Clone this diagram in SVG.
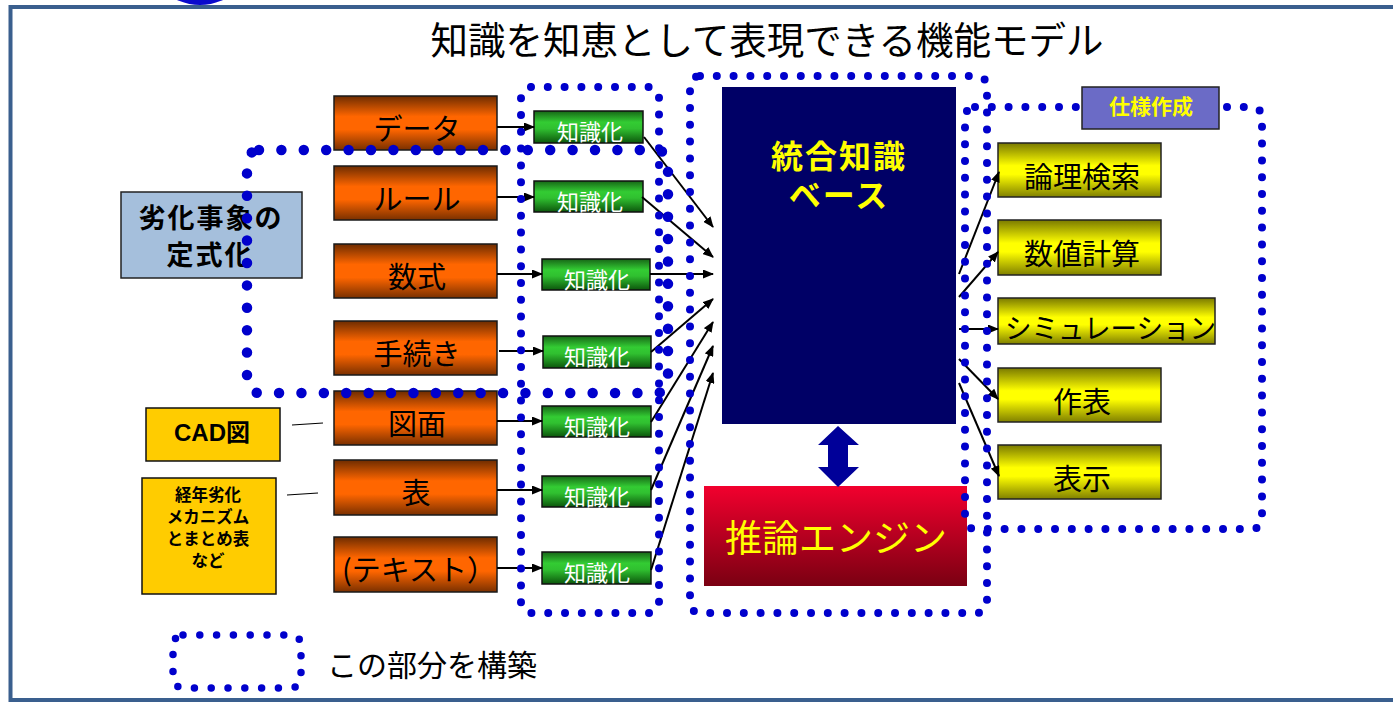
<svg xmlns="http://www.w3.org/2000/svg" width="1393" height="703" viewBox="0 0 1393 703">
<defs>
<linearGradient id="gOrange" x1="0" y1="0" x2="0" y2="1">
<stop offset="0" stop-color="#6E2C00"/><stop offset="0.38" stop-color="#FF6600"/><stop offset="0.62" stop-color="#FF6600"/><stop offset="1" stop-color="#7A3000"/>
</linearGradient>
<linearGradient id="gGreen" x1="0" y1="0" x2="0" y2="1">
<stop offset="0" stop-color="#176617"/><stop offset="0.35" stop-color="#33CC33"/><stop offset="0.55" stop-color="#30C030"/><stop offset="1" stop-color="#0C560C"/>
</linearGradient>
<linearGradient id="gYellow" x1="0" y1="0" x2="0" y2="1">
<stop offset="0" stop-color="#7A7A00"/><stop offset="0.42" stop-color="#FFFF00"/><stop offset="0.58" stop-color="#FFFF00"/><stop offset="1" stop-color="#808000"/>
</linearGradient>
<linearGradient id="gRed" x1="0" y1="0" x2="0" y2="1">
<stop offset="0" stop-color="#F2002E"/><stop offset="1" stop-color="#7A0012"/>
</linearGradient>
<marker id="ah" markerUnits="userSpaceOnUse" markerWidth="11" markerHeight="9" refX="10" refY="4.5" orient="auto">
<path d="M0,0 L11,4.5 L0,9 z" fill="#000"/>
</marker>
<style>
.ja{font-family:"Noto Sans CJK JP","Noto Sans CJK SC",sans-serif}
.ob{fill:url(#gOrange);stroke:#1a1a1a;stroke-width:1.5}
.gb{fill:url(#gGreen);stroke:#111;stroke-width:1.5}
.yb{fill:url(#gYellow);stroke:#222;stroke-width:1.5}
.ot{font-size:29px;fill:#000;text-anchor:middle}
.gt{font-size:22px;fill:#fff;text-anchor:middle}
.yt{font-size:29px;fill:#000;text-anchor:middle}
.con{stroke:#000;stroke-width:2;fill:none;marker-end:url(#ah)}
.dots{fill:none;stroke:#0000CC;stroke-linecap:round}
</style>
</defs>
<rect width="1393" height="703" fill="#fff"/>
<circle cx="200" cy="-50" r="55" fill="#0A0ACD"/>
<rect x="10.5" y="7" width="1400" height="693" fill="none" stroke="#3A5F8E" stroke-width="4"/>
<text class="ja" x="767" y="54" font-size="37.5" text-anchor="middle" fill="#000">知識を知恵として表現できる機能モデル</text>

<g id="n-rekka"><rect x="121" y="192" width="181" height="86" fill="#A5BFDC" stroke="#222" stroke-width="1.5"/>
<text class="ja" x="211" y="228" font-size="27" font-weight="bold" text-anchor="middle" letter-spacing="2">劣化事象の</text>
<text class="ja" x="210" y="265" font-size="27" font-weight="bold" text-anchor="middle" letter-spacing="2">定式化</text></g>

<g id="n-cad"><rect x="146" y="408" width="134" height="53" fill="#FFCC00" stroke="#111" stroke-width="1.5"/>
<text x="212" y="441" font-size="24" font-weight="bold" text-anchor="middle" font-family="Liberation Sans,Noto Sans CJK JP,sans-serif">CAD図</text></g>

<g id="n-keinen"><rect x="142" y="478" width="134" height="116" fill="#FFCC00" stroke="#111" stroke-width="1.5"/>
<g class="ja" font-size="16.5" font-weight="bold" text-anchor="middle">
<text x="208" y="501">経年劣化</text><text x="208" y="523">メカニズム</text><text x="208" y="545">とまとめ表</text><text x="208" y="567">など</text></g></g>

<g id="n-data"><rect class="ob" x="334" y="96" width="163" height="54"/><text class="ja ot" x="417" y="140">データ</text></g>
<g id="n-rule"><rect class="ob" x="334" y="166" width="163" height="54"/><text class="ja ot" x="417" y="210">ルール</text></g>
<g id="n-shiki"><rect class="ob" x="334" y="244" width="163" height="54"/><text class="ja ot" x="417" y="288">数式</text></g>
<g id="n-tetsuzuki"><rect class="ob" x="334" y="321" width="163" height="54"/><text class="ja ot" x="417" y="365">手続き</text></g>
<g id="n-zumen"><rect class="ob" x="334" y="391" width="163" height="54"/><text class="ja ot" x="417" y="435">図面</text></g>
<g id="n-hyo"><rect class="ob" x="334" y="460" width="163" height="55"/><text class="ja ot" x="416" y="504">表</text></g>
<g id="n-text"><rect class="ob" x="334" y="537" width="163" height="55"/><text class="ja ot" x="419" y="581">(テキスト）</text></g>

<g id="n-k1"><rect class="gb" x="534" y="111" width="109" height="32"/><text class="ja gt" x="590" y="140">知識化</text></g>
<g id="n-k2"><rect class="gb" x="534" y="181" width="109" height="31"/><text class="ja gt" x="590" y="210">知識化</text></g>
<g id="n-k3"><rect class="gb" x="542" y="259" width="108" height="31"/><text class="ja gt" x="597" y="288">知識化</text></g>
<g id="n-k4"><rect class="gb" x="543" y="336" width="108" height="32"/><text class="ja gt" x="597" y="365">知識化</text></g>
<g id="n-k5"><rect class="gb" x="542" y="406" width="109" height="31"/><text class="ja gt" x="597" y="435">知識化</text></g>
<g id="n-k6"><rect class="gb" x="542" y="476" width="109" height="31"/><text class="ja gt" x="597" y="505">知識化</text></g>
<g id="n-k7"><rect class="gb" x="542" y="552" width="109" height="32"/><text class="ja gt" x="597" y="581">知識化</text></g>

<g id="n-kb"><rect x="722" y="87" width="234" height="337" fill="#000066"/>
<text class="ja" x="839" y="168" font-size="32" font-weight="bold" fill="#FFFF00" text-anchor="middle" letter-spacing="2">統合知識</text>
<text class="ja" x="839" y="207" font-size="32" font-weight="bold" fill="#FFFF00" text-anchor="middle" letter-spacing="2">ベース</text></g>

<g id="n-engine"><rect x="704" y="486" width="263" height="100" fill="url(#gRed)"/>
<text class="ja" x="836" y="552" font-size="37" fill="#FFFF00" text-anchor="middle">推論エンジン</text></g>

<g id="n-ronri"><rect class="yb" x="998" y="143" width="163" height="54"/><text class="ja yt" x="1082" y="188">論理検索</text></g>
<g id="n-suchi"><rect class="yb" x="998" y="220" width="163" height="55"/><text class="ja yt" x="1082" y="265">数値計算</text></g>
<g id="n-sim"><rect class="yb" x="998" y="298" width="217" height="46"/><text class="ja" x="1005" y="339" font-size="28" textLength="211" lengthAdjust="spacingAndGlyphs">シミュレーション</text></g>
<g id="n-sakuhyo"><rect class="yb" x="998" y="368" width="163" height="54"/><text class="ja yt" x="1082" y="413">作表</text></g>
<g id="n-hyoji"><rect class="yb" x="998" y="445" width="163" height="54"/><text class="ja yt" x="1082" y="490">表示</text></g>

<g id="connectors">
<line class="con" x1="497" y1="127" x2="534" y2="127"/>
<line class="con" x1="497" y1="197" x2="534" y2="197"/>
<line class="con" x1="497" y1="274" x2="542" y2="274"/>
<line class="con" x1="499" y1="351" x2="543" y2="351"/>
<line class="con" x1="497" y1="421" x2="542" y2="421"/>
<line class="con" x1="497" y1="490" x2="542" y2="490"/>
<line class="con" x1="497" y1="568" x2="542" y2="568"/>
<line class="con" x1="644" y1="137" x2="713" y2="227"/>
<line class="con" x1="642" y1="197" x2="713" y2="257"/>
<line class="con" x1="650" y1="274" x2="713" y2="274"/>
<line class="con" x1="651" y1="352" x2="713" y2="299"/>
<line class="con" x1="651" y1="422" x2="713" y2="322"/>
<line class="con" x1="651" y1="490" x2="713" y2="346"/>
<line class="con" x1="651" y1="570" x2="713" y2="373"/>
<line class="con" x1="959" y1="274" x2="999" y2="172"/>
<line class="con" x1="959" y1="297" x2="998" y2="252"/>
<line class="con" x1="959" y1="329" x2="998" y2="329"/>
<line class="con" x1="959" y1="359" x2="998" y2="399"/>
<line class="con" x1="959" y1="383" x2="999" y2="476"/>
<line x1="292" y1="425" x2="323" y2="423" stroke="#000" stroke-width="1.2"/>
<line x1="287" y1="495" x2="318" y2="493" stroke="#000" stroke-width="1.2"/>
<path d="M838,426 L859,445 L848,445 L848,467 L859,467 L838,487 L818,467 L828,467 L828,445 L818,445 z" fill="#000099"/>
</g>

<g id="regions">
<rect class="dots" x="247" y="150" width="421" height="243" rx="12" stroke-width="10.5" stroke-dasharray="0 22.4"/>
<rect class="dots" x="521" y="87" width="138" height="526" rx="10" stroke-width="8" stroke-dasharray="0 16.8"/>
<rect class="dots" x="690" y="76" width="297" height="537" rx="10" stroke-width="8" stroke-dasharray="0 16.8"/>
<rect class="dots" x="965" y="107" width="297" height="422" rx="10" stroke-width="8" stroke-dasharray="0 16.8"/>
</g>
<g id="n-shiyo"><rect x="1082" y="87" width="137" height="42" fill="#6B6BC6" stroke="#222" stroke-width="1.5"/>
<text class="ja" x="1151" y="114" font-size="21" font-weight="bold" fill="#FFFF00" text-anchor="middle">仕様作成</text></g>

<g id="legend">
<rect class="dots" x="173" y="635" width="128" height="53" rx="10" stroke-width="7.5" stroke-dasharray="0 16.8"/>
<text class="ja" x="327" y="676" font-size="30">この部分を構築</text>
</g>
</svg>
